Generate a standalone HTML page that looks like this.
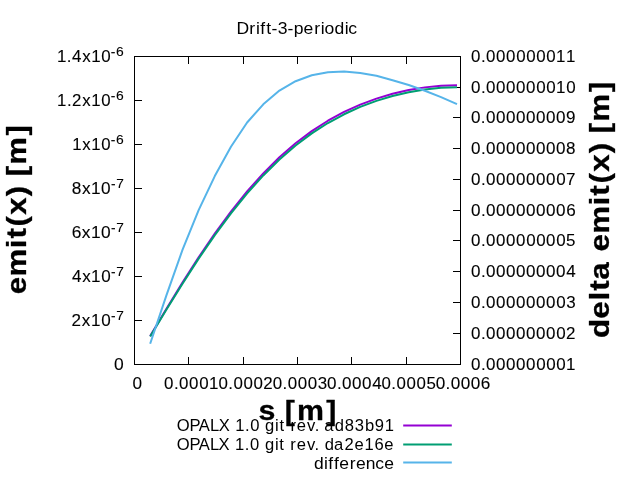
<!DOCTYPE html>
<html><head><meta charset="utf-8"><title>Drift-3-periodic</title>
<style>html,body{margin:0;padding:0;background:#fff;overflow:hidden}svg{display:block;will-change:transform;filter:opacity(1)}text{font-family:"Liberation Sans",sans-serif}</style>
</head><body>
<svg width="640" height="480" viewBox="0 0 640 480">
<rect x="0" y="0" width="640" height="480" fill="#fff"/>
<g stroke="#000" stroke-width="1" fill="none" shape-rendering="crispEdges">
<rect x="134.5" y="56.5" width="326" height="308"/>
<line x1="134" y1="320.5" x2="142" y2="320.5"/>
<line x1="134" y1="276.5" x2="142" y2="276.5"/>
<line x1="134" y1="232.5" x2="142" y2="232.5"/>
<line x1="134" y1="188.5" x2="142" y2="188.5"/>
<line x1="134" y1="144.5" x2="142" y2="144.5"/>
<line x1="134" y1="100.5" x2="142" y2="100.5"/>
<line x1="461" y1="333.5" x2="453" y2="333.5"/>
<line x1="461" y1="302.5" x2="453" y2="302.5"/>
<line x1="461" y1="271.5" x2="453" y2="271.5"/>
<line x1="461" y1="240.5" x2="453" y2="240.5"/>
<line x1="461" y1="210.5" x2="453" y2="210.5"/>
<line x1="461" y1="179.5" x2="453" y2="179.5"/>
<line x1="461" y1="148.5" x2="453" y2="148.5"/>
<line x1="461" y1="117.5" x2="453" y2="117.5"/>
<line x1="461" y1="87.5" x2="453" y2="87.5"/>
<line x1="188.5" y1="365" x2="188.5" y2="357"/>
<line x1="188.5" y1="56" x2="188.5" y2="64"/>
<line x1="243.5" y1="365" x2="243.5" y2="357"/>
<line x1="243.5" y1="56" x2="243.5" y2="64"/>
<line x1="297.5" y1="365" x2="297.5" y2="357"/>
<line x1="297.5" y1="56" x2="297.5" y2="64"/>
<line x1="351.5" y1="365" x2="351.5" y2="357"/>
<line x1="351.5" y1="56" x2="351.5" y2="64"/>
<line x1="406.5" y1="365" x2="406.5" y2="357"/>
<line x1="406.5" y1="56" x2="406.5" y2="64"/>
</g>
<polyline points="150.16,336.12 166.32,309.06 182.48,282.63 198.64,257.34 214.80,233.56 230.96,211.54 247.12,191.44 263.28,173.37 279.44,157.33 295.60,143.28 311.76,131.11 327.92,120.72 344.08,111.95 360.24,104.62 376.40,98.60 392.56,93.78 408.72,90.06 424.88,87.38 441.04,85.73 457.00,85.19" fill="none" stroke="#9400d3" stroke-width="2" stroke-linejoin="round"/>
<polyline points="150.16,336.48 166.32,309.77 182.48,283.67 198.64,258.66 214.80,235.12 230.96,213.31 247.12,193.39 263.28,175.45 279.44,159.51 295.60,145.52 311.76,133.40 327.92,123.02 344.08,114.26 360.24,106.92 376.40,100.88 392.56,96.03 408.72,92.27 424.88,89.55 441.04,87.86 457.00,87.26" fill="none" stroke="#009e73" stroke-width="2" stroke-linejoin="round"/>
<polyline points="150.16,343.70 166.32,295.60 182.48,249.90 198.64,210.10 214.80,176.10 230.96,146.80 247.12,122.50 263.28,104.35 279.44,90.60 295.60,81.20 311.76,75.30 327.92,72.15 344.08,71.40 360.24,73.10 376.40,75.70 392.56,80.25 408.72,85.00 424.88,90.80 441.04,97.15 457.00,104.20" fill="none" stroke="#56b4e9" stroke-width="2" stroke-linejoin="round"/>
<g fill="#000" stroke-linejoin="round">
<text transform="translate(238.25,34.00) scale(1.0338,1)" font-size="17.00" x="-1.71 10.67 17.09 21.20 27.08 32.17 38.22 47.62 53.72 63.16 73.42 79.83 83.40 93.18 103.00 106.36">Drift-3-periodic</text>
<text transform="translate(114.70,369.90) scale(1.0279,1)" font-size="17.00" stroke="#000" stroke-width="0.10" x="-0.68">0</text>
<text transform="translate(72.50,325.90) scale(1.0028,1)" font-size="17.00" stroke="#000" stroke-width="0.10" x="-0.99 9.36 18.41 28.58">2x10</text>
<text transform="translate(111.50,319.90) scale(1.0073,1)" font-size="13.60" stroke="#000" stroke-width="0.10" x="-0.58 4.78">-7</text>
<text transform="translate(72.50,281.90) scale(1.0036,1)" font-size="17.00" stroke="#000" stroke-width="0.10" x="-0.43 9.60 18.54 28.60">4x10</text>
<text transform="translate(111.50,275.90) scale(1.0073,1)" font-size="13.60" stroke="#000" stroke-width="0.10" x="-0.58 4.78">-7</text>
<text transform="translate(72.50,237.90) scale(1.0213,1)" font-size="17.00" stroke="#000" stroke-width="0.10" x="-0.75 9.16 18.01 27.99">6x10</text>
<text transform="translate(111.50,231.90) scale(1.0073,1)" font-size="13.60" stroke="#000" stroke-width="0.10" x="-0.58 4.78">-7</text>
<text transform="translate(72.50,193.90) scale(1.0132,1)" font-size="17.00" stroke="#000" stroke-width="0.10" x="-0.76 9.27 18.20 28.25">8x10</text>
<text transform="translate(111.50,187.90) scale(1.0073,1)" font-size="13.60" stroke="#000" stroke-width="0.10" x="-0.58 4.78">-7</text>
<text transform="translate(73.70,149.90) scale(0.9863,1)" font-size="17.00" stroke="#000" stroke-width="0.10" x="-1.41 8.78 17.82 28.00">1x10</text>
<text transform="translate(111.50,143.90) scale(1.0195,1)" font-size="13.60" stroke="#000" stroke-width="0.10" x="-0.65 4.50">-6</text>
<text transform="translate(58.40,105.90) scale(0.9876,1)" font-size="17.00" stroke="#000" stroke-width="0.10" x="-1.39 8.61 13.71 24.11 33.20 43.42">1.2x10</text>
<text transform="translate(111.50,99.90) scale(1.0195,1)" font-size="13.60" stroke="#000" stroke-width="0.10" x="-0.65 4.50">-6</text>
<text transform="translate(58.40,61.90) scale(0.9967,1)" font-size="17.00" stroke="#000" stroke-width="0.10" x="-1.42 8.51 13.75 23.85 32.85 42.98">1.4x10</text>
<text transform="translate(111.50,55.90) scale(1.0195,1)" font-size="13.60" stroke="#000" stroke-width="0.10" x="-0.65 4.50">-6</text>
<text transform="translate(471.75,369.90) scale(0.9977,1)" font-size="17.00" stroke="#000" stroke-width="0.10" x="-0.67 9.18 14.38 24.41 34.44 44.47 54.50 64.53 74.56 84.59 94.56">0.000000001</text>
<text transform="translate(471.75,338.90) scale(0.9974,1)" font-size="17.00" stroke="#000" stroke-width="0.10" x="-0.66 9.18 14.38 24.42 34.45 44.48 54.51 64.55 74.58 84.61 94.44">0.000000002</text>
<text transform="translate(471.75,307.90) scale(0.9982,1)" font-size="17.00" stroke="#000" stroke-width="0.10" x="-0.67 9.17 14.37 24.39 34.42 44.44 54.47 64.49 74.52 84.54 94.57">0.000000003</text>
<text transform="translate(471.75,276.90) scale(1.0018,1)" font-size="17.00" stroke="#000" stroke-width="0.10" x="-0.68 9.13 14.30 24.29 34.28 44.27 54.26 64.25 74.24 84.23 94.22">0.000000004</text>
<text transform="translate(471.75,245.90) scale(0.9962,1)" font-size="17.00" stroke="#000" stroke-width="0.10" x="-0.66 9.19 14.41 24.45 34.50 44.54 54.59 64.63 74.67 84.72 94.68">0.000000005</text>
<text transform="translate(471.75,215.90) scale(1.0052,1)" font-size="17.00" stroke="#000" stroke-width="0.10" x="-0.70 9.09 14.24 24.19 34.15 44.10 54.06 64.01 73.97 83.92 93.92">0.000000006</text>
<text transform="translate(471.75,184.90) scale(0.9994,1)" font-size="17.00" stroke="#000" stroke-width="0.10" x="-0.67 9.16 14.35 24.36 34.37 44.39 54.40 64.41 74.42 84.44 94.41">0.000000007</text>
<text transform="translate(471.75,153.90) scale(1.0021,1)" font-size="17.00" stroke="#000" stroke-width="0.10" x="-0.68 9.13 14.29 24.28 34.27 44.25 54.24 64.22 74.21 84.19 94.18">0.000000008</text>
<text transform="translate(471.75,122.90) scale(1.0032,1)" font-size="17.00" stroke="#000" stroke-width="0.10" x="-0.69 9.11 14.28 24.25 34.23 44.20 54.18 64.15 74.13 84.10 94.04">0.000000009</text>
<text transform="translate(471.75,92.90) scale(0.9977,1)" font-size="17.00" stroke="#000" stroke-width="0.10" x="-0.67 9.18 14.38 24.41 34.44 44.47 54.50 64.53 74.56 84.53 94.61">0.000000010</text>
<text transform="translate(471.75,61.90) scale(0.9933,1)" font-size="17.00" stroke="#000" stroke-width="0.10" x="-0.65 9.23 14.46 24.54 34.61 44.69 54.76 64.83 74.91 84.93 95.01">0.000000011</text>
<text transform="translate(133.10,388.75) scale(1.0093,1)" font-size="17.00" stroke="#000" stroke-width="0.10" x="-0.68">0</text>
<text transform="translate(164.75,388.75) scale(0.9949,1)" font-size="17.00" stroke="#000" stroke-width="0.10" x="-0.65 9.22 14.45 24.51 34.58 44.59">0.0001</text>
<text transform="translate(219.08,388.75) scale(0.9944,1)" font-size="17.00" stroke="#000" stroke-width="0.10" x="-0.65 9.22 14.46 24.53 34.60 44.46">0.0002</text>
<text transform="translate(273.42,388.75) scale(0.9960,1)" font-size="17.00" stroke="#000" stroke-width="0.10" x="-0.66 9.20 14.43 24.48 34.53 44.59">0.0003</text>
<text transform="translate(327.75,388.75) scale(1.0029,1)" font-size="17.00" stroke="#000" stroke-width="0.10" x="-0.68 9.12 14.29 24.28 34.26 44.25">0.0004</text>
<text transform="translate(382.08,388.75) scale(0.9920,1)" font-size="17.00" stroke="#000" stroke-width="0.10" x="-0.64 9.25 14.50 24.59 34.69 44.70">0.0005</text>
<text transform="translate(436.42,388.75) scale(1.0096,1)" font-size="17.00" stroke="#000" stroke-width="0.10" x="-0.71 9.05 14.17 24.08 34.00 43.96">0.0006</text>
<text transform="translate(260.00,420.40) scale(1.0837,1)" font-size="28.00" font-weight="bold" stroke="#000" stroke-width="0.30" x="-1.46 13.73 22.84 34.04 61.10">s [m]</text>
<text transform="translate(26.25,293.30) rotate(-90) scale(1.1109,1)" font-size="28.00" font-weight="bold" stroke="#000" stroke-width="0.30" x="-0.84 15.19 40.50 49.30 60.15 70.69 87.32 96.77 105.29 115.73 142.03">emit(x) [m]</text>
<text transform="translate(609.40,336.70) rotate(-90) scale(1.1208,1)" font-size="28.00" font-weight="bold" stroke="#000" stroke-width="0.30" x="-1.22 16.09 32.23 40.98 50.91 67.69 75.93 91.85 117.06 125.82 136.61 147.08 163.65 173.07 181.51 191.86 218.07">delta emit(x) [m]</text>
<text transform="translate(177.80,430.50) scale(0.9768,1)" font-size="17.00" x="-1.08 11.93 21.46 32.95 41.83 53.20 58.72 68.75 74.08 83.82 89.32 99.55 104.02 109.34 115.30 121.89 132.36 140.20 145.07 149.81 160.77 171.05 181.26 191.54 201.63 211.83">OPALX 1.0 git rev. ad83b91</text>
<text transform="translate(177.80,449.50) scale(0.9773,1)" font-size="17.00" x="-1.08 11.91 21.41 32.89 41.75 53.12 58.62 68.63 73.96 83.69 89.17 99.39 103.85 109.17 115.11 121.69 132.15 139.97 144.83 150.32 159.75 170.57 180.80 191.10 201.38 211.37">OPALX 1.0 git rev. da2e16e</text>
<text transform="translate(314.90,468.60) scale(1.0285,1)" font-size="17.00" x="-0.79 8.90 12.93 18.62 23.77 33.87 39.89 49.56 58.62 67.39">difference</text>
</g>
<line x1="403.2" y1="425.5" x2="451.8" y2="425.5" stroke="#9400d3" stroke-width="2"/>
<line x1="403.2" y1="444.5" x2="451.8" y2="444.5" stroke="#009e73" stroke-width="2"/>
<line x1="403.2" y1="462.6" x2="451.8" y2="462.6" stroke="#56b4e9" stroke-width="2"/>
</svg>
</body></html>
